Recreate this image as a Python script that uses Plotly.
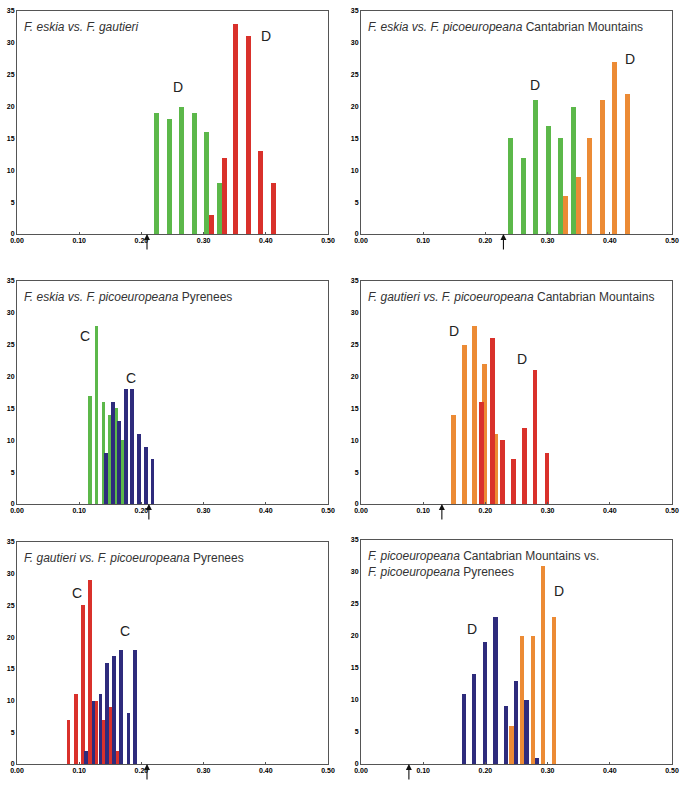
import plotly.graph_objects as go

# ---------------- data ----------------
titles = [
    "<i>F. eskia vs. F. gautieri</i>",
    "<i>F. eskia vs. F. picoeuropeana</i> Cantabrian Mountains",
    "<i>F. eskia vs. F. picoeuropeana</i> Pyrenees",
    "<i>F. gautieri vs. F. picoeuropeana</i> Cantabrian Mountains",
    "<i>F. gautieri vs. F. picoeuropeana</i> Pyrenees",
    "<i>F. picoeuropeana</i> Cantabrian Mountains vs.<br><i>F. picoeuropeana</i> Pyrenees",
]

# panel 1
p1_a_x = [0.225, 0.245, 0.265, 0.285, 0.305, 0.325]
p1_a_y = [19, 18, 20, 19, 16, 8]
p1_b_x = [0.312, 0.333, 0.352, 0.372, 0.392, 0.412]
p1_b_y = [3, 12, 33, 31, 13, 8]
# panel 2
p2_a_x = [0.241, 0.261, 0.281, 0.301, 0.321, 0.341]
p2_a_y = [15, 12, 21, 17, 15, 20]
p2_b_x = [0.329, 0.349, 0.368, 0.388, 0.408, 0.428]
p2_b_y = [6, 9, 15, 21, 27, 22]
# panel 3
p3_a_x = [0.117, 0.128, 0.139, 0.149, 0.160, 0.170]
p3_a_y = [17, 28, 16, 14, 15, 10]
p3_b_x = [0.143, 0.154, 0.164, 0.175, 0.185, 0.196, 0.207, 0.218]
p3_b_y = [8, 16, 13, 18, 18, 11, 9, 7]
# panel 4
p4_a_x = [0.149, 0.166, 0.182, 0.199, 0.217]
p4_a_y = [14, 25, 28, 22, 11]
p4_b_x = [0.194, 0.211, 0.228, 0.245, 0.263, 0.280, 0.299]
p4_b_y = [16, 26, 10, 7, 12, 21, 8]
# panel 5
p5_a_x = [0.083, 0.095, 0.106, 0.117, 0.128, 0.140, 0.151, 0.162]
p5_a_y = [7, 11, 25, 29, 10, 7, 9, 2]
p5_b_x = [0.111, 0.123, 0.134, 0.145, 0.156, 0.167, 0.179, 0.190]
p5_b_y = [2, 10, 11, 16, 17, 18, 8, 18]
# panel 6
p6_a_x = [0.166, 0.182, 0.199, 0.216, 0.233, 0.249, 0.266, 0.283]
p6_a_y = [11, 14, 19, 23, 9, 13, 10, 1]
p6_b_x = [0.242, 0.259, 0.276, 0.293, 0.310]
p6_b_y = [6, 20, 20, 31, 23]

arrow_x = [0.209, 0.229, 0.212, 0.130, 0.209, 0.077]

label_text = [["D", "D"], ["D", "D"], ["C", "C"], ["D", "D"], ["C", "C"], ["D", "D"]]
label_x = [[0.259, 0.401], [0.279, 0.433], [0.110, 0.183], [0.150, 0.259], [0.096, 0.174], [0.178, 0.319]]
label_y = [[23, 31.1], [23.4, 27.4], [26.4, 19.7], [27.2, 22.7], [27.0, 20.9], [21.1, 27.0]]

x_ticks = [0.0, 0.1, 0.2, 0.3, 0.4, 0.5]
x_tick_text = ["0.00", "0.10", "0.20", "0.30", "0.40", "0.50"]
y_ticks = [0, 5, 10, 15, 20, 25, 30, 35]

# ---------------- styles ----------------
GREEN = "#5cb84a"
RED = "#d9312b"
ORANGE = "#ec8b35"
NAVY = "#2e2b7c"

panels = [
    (p1_a_x, p1_a_y, GREEN, p1_b_x, p1_b_y, RED, 0.008),
    (p2_a_x, p2_a_y, GREEN, p2_b_x, p2_b_y, ORANGE, 0.008),
    (p3_a_x, p3_a_y, GREEN, p3_b_x, p3_b_y, NAVY, 0.0058),
    (p4_a_x, p4_a_y, ORANGE, p4_b_x, p4_b_y, RED, 0.0075),
    (p5_a_x, p5_a_y, RED, p5_b_x, p5_b_y, NAVY, 0.0058),
    (p6_a_x, p6_a_y, NAVY, p6_b_x, p6_b_y, ORANGE, 0.007),
]

W, H = 685, 791
# pixel boxes: (left, right, top, bottom)
boxes = [
    (17, 328, 11, 234),
    (361, 672, 11, 234),
    (17, 328, 281, 504),
    (361, 672, 281, 504),
    (17, 328, 542, 764),
    (361, 672, 540, 764),
]

fig = go.Figure()
annotations = []
for i, (ax_, ay_, ca, bx_, by_, cb, bw) in enumerate(panels):
    n = i + 1
    xa = "x" if n == 1 else f"x{n}"
    ya = "y" if n == 1 else f"y{n}"
    fig.add_trace(go.Bar(x=ax_, y=ay_, width=bw, marker=dict(color=ca, line=dict(width=0)),
                         xaxis=xa, yaxis=ya, showlegend=False))
    fig.add_trace(go.Bar(x=bx_, y=by_, width=bw, marker=dict(color=cb, line=dict(width=0)),
                         xaxis=xa, yaxis=ya, showlegend=False))
    l, r, t, b = boxes[i]
    axis_common = dict(showline=True, mirror=True, linecolor="#555555", linewidth=1,
                       showgrid=False, zeroline=False, automargin=False,
                       tickfont=dict(family="Liberation Sans, Arial", size=7, color="#000000",
                                     weight="bold"))
    fig.layout[f"xaxis{'' if n == 1 else n}"] = dict(
        domain=[l / W, r / W], range=[0, 0.5], anchor=ya, tickvals=x_ticks, ticktext=x_tick_text,
        ticks="inside", ticklen=2, tickcolor="#555", **axis_common)
    fig.layout[f"yaxis{'' if n == 1 else n}"] = dict(
        domain=[1 - b / H, 1 - t / H], range=[0, 35], anchor=xa, tickvals=y_ticks,
        ticks="", **axis_common)
    # title
    annotations.append(dict(text=titles[i], xref=f"{xa} domain", yref=f"{ya} domain",
                            x=5 / (r - l), y=1 - 7 / (b - t), xanchor="left", yanchor="top",
                            showarrow=False, align="left",
                            font=dict(family="Liberation Sans, Arial", size=12, color="#333")))
    # letters
    for txt, lx, ly in zip(label_text[i], label_x[i], label_y[i]):
        annotations.append(dict(text=txt, x=lx, y=ly, xref=xa, yref=ya, showarrow=False,
                                font=dict(family="Liberation Sans, Arial", size=14, color="#222")))
    # arrow
    annotations.append(dict(x=arrow_x[i], y=0, xref=xa, yref=ya, ax=0, ay=17,
                            showarrow=True, arrowhead=2, arrowsize=1.1, arrowwidth=1.1,
                            arrowcolor="#111", text=""))

fig.update_layout(width=W, height=H, margin=dict(l=0, r=0, t=0, b=0),
                  plot_bgcolor="white", paper_bgcolor="white", barmode="overlay",
                  annotations=annotations, bargap=0)
fig.write_html("out.html", config={"displayModeBar": False},
               post_script="document.body.style.margin='0px';")
